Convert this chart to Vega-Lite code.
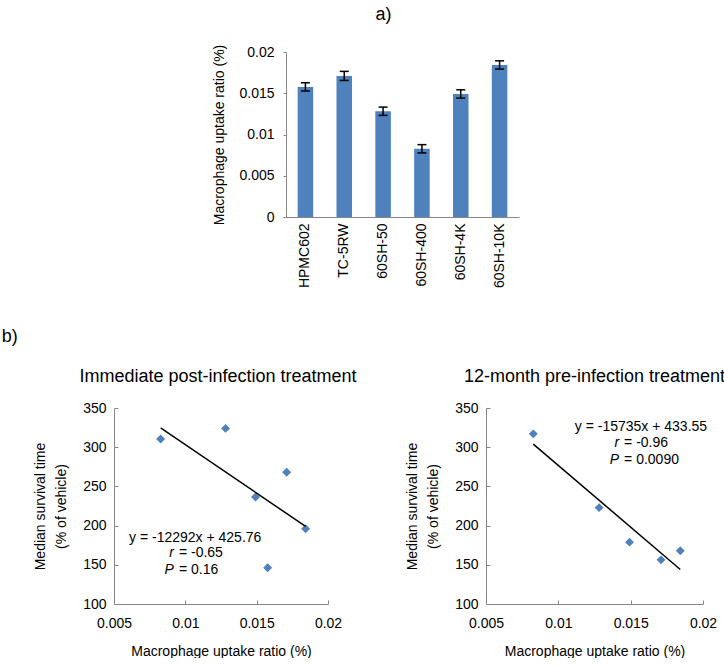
{
  "$schema": "https://vega.github.io/schema/vega-lite/v6.json",
  "padding": {"left": 1, "top": 6, "right": 0, "bottom": 0},
  "background": "white",
  "center": false,
  "config": {
    "view": {"stroke": null},
    "font": "Liberation Sans",
    "title": {"font": "Liberation Sans", "fontWeight": "normal", "fontSize": 18, "color": "black"},
    "axis": {
      "grid": false,
      "domainColor": "#868686",
      "tickColor": "#868686",
      "labelColor": "black",
      "titleColor": "black",
      "labelFont": "Liberation Sans",
      "titleFont": "Liberation Sans",
      "labelFontSize": 14,
      "titleFontSize": 14,
      "titleFontWeight": "normal",
      "labelFlush": false,
      "labelOverlap": false
    }
  },
  "datasets": {
    "bars": [
      {"sample": "HPMC602", "ratio": 0.01577, "low": 0.01527, "high": 0.01627},
      {"sample": "TC-5RW", "ratio": 0.0171, "low": 0.01655, "high": 0.01765},
      {"sample": "60SH-50", "ratio": 0.01282, "low": 0.01232, "high": 0.01332},
      {"sample": "60SH-400", "ratio": 0.00827, "low": 0.00777, "high": 0.00877},
      {"sample": "60SH-4K", "ratio": 0.01492, "low": 0.01442, "high": 0.01542},
      {"sample": "60SH-10K", "ratio": 0.01843, "low": 0.01793, "high": 0.01893}
    ],
    "post": [
      {"uptake": 0.00827, "survival": 310.5},
      {"uptake": 0.01282, "survival": 324},
      {"uptake": 0.01492, "survival": 236.5},
      {"uptake": 0.01577, "survival": 146.3},
      {"uptake": 0.0171, "survival": 268},
      {"uptake": 0.01843, "survival": 196}
    ],
    "postfit": [
      {"uptake": 0.00827, "survival": 324.5},
      {"uptake": 0.01843, "survival": 199}
    ],
    "postnotes": [
      {"kind": "center", "uptake": 0.01069, "survival": 184, "t": "y = -12292x + 425.76"},
      {"kind": "italic", "uptake": 0.0092, "survival": 164.7, "t": "r"},
      {"kind": "italic", "uptake": 0.0092, "survival": 143.4, "t": "P"},
      {"kind": "rest", "uptake": 0.0092, "survival": 164.7, "t": "= -0.65"},
      {"kind": "rest", "uptake": 0.0092, "survival": 143.4, "t": "= 0.16"}
    ],
    "pre": [
      {"uptake": 0.00827, "survival": 317},
      {"uptake": 0.01282, "survival": 222.9},
      {"uptake": 0.01492, "survival": 178.9},
      {"uptake": 0.0171, "survival": 156.3},
      {"uptake": 0.01843, "survival": 167.8}
    ],
    "prefit": [
      {"uptake": 0.00827, "survival": 304},
      {"uptake": 0.01843, "survival": 144}
    ],
    "prenotes": [
      {"kind": "center", "uptake": 0.01571, "survival": 325.7, "t": "y = -15735x + 433.55"},
      {"kind": "italic", "uptake": 0.0142, "survival": 304.8, "t": "r"},
      {"kind": "italic", "uptake": 0.0142, "survival": 284.3, "t": "P"},
      {"kind": "rest", "uptake": 0.0142, "survival": 304.8, "t": "= -0.96"},
      {"kind": "rest", "uptake": 0.0142, "survival": 284.3, "t": "= 0.0090"}
    ]
  },
  "vconcat": [
    {
      "spacing": 0,
      "center": false,
      "hconcat": [
        {"width": 98, "height": 10, "data": {"values": []}, "mark": "point", "encoding": {}},
        {
          "title": {"text": "a)", "anchor": "middle", "frame": "group", "dx": -19, "offset": 20},
          "width": 233,
          "height": 165,
          "data": {"name": "bars"},
          "layer": [
            {
              "mark": {"type": "bar", "color": "#4F81BD"},
              "encoding": {
                "x": {"field": "sample", "type": "nominal", "sort": null,
                      "scale": {"paddingInner": 0.6, "paddingOuter": 0.3},
                      "axis": {"title": null, "labelAngle": -90, "ticks": false, "labelPadding": 6}},
                "y": {"field": "ratio", "type": "quantitative",
                      "scale": {"domain": [0, 0.02], "nice": false},
                      "axis": {"title": "Macrophage uptake ratio (%)", "values": [0, 0.005, 0.01, 0.015, 0.02],
                               "format": "~g", "tickSize": 3, "labelPadding": 9, "titlePadding": 12, "labelOverlap": false}}
              }
            },
            {
              "mark": {"type": "rule", "color": "black", "strokeWidth": 1.5},
              "encoding": {
                "x": {"field": "sample", "type": "nominal", "sort": null},
                "y": {"field": "low", "type": "quantitative"},
                "y2": {"field": "high"}
              }
            },
            {
              "mark": {"type": "tick", "color": "black", "size": 9, "thickness": 1.5, "opacity": 1},
              "encoding": {
                "x": {"field": "sample", "type": "nominal", "sort": null},
                "y": {"field": "low", "type": "quantitative"}
              }
            },
            {
              "mark": {"type": "tick", "color": "black", "size": 9, "thickness": 1.5, "opacity": 1},
              "encoding": {
                "x": {"field": "sample", "type": "nominal", "sort": null},
                "y": {"field": "high", "type": "quantitative"}
              }
            }
          ]
        }
      ]
    },
    {
      "title": {"text": "b)", "anchor": "start", "dx": -32, "offset": 22},
      "spacing": 48,
      "hconcat": [
        {
          "title": {"text": "Immediate post-infection treatment", "anchor": "middle", "frame": "group", "dx": -3, "offset": 15},
          "width": 214,
          "height": 196,
          "encoding": {
            "x": {"field": "uptake", "type": "quantitative",
                  "scale": {"domain": [0.005, 0.02], "nice": false, "zero": false},
                  "axis": {"title": "Macrophage uptake ratio (%)", "values": [0.005, 0.01, 0.015, 0.02], "format": "~g",
                           "tickSize": -4, "labelPadding": 16, "titlePadding": 14, "labelOverlap": false}},
            "y": {"field": "survival", "type": "quantitative",
                  "scale": {"domain": [100, 350], "nice": false, "zero": false},
                  "axis": {"title": ["Median survival time", "(% of vehicle)"], "values": [100, 150, 200, 250, 300, 350],
                           "tickCount": 6, "format": "d", "tickSize": -4, "labelPadding": 12, "titlePadding": 14,
                           "titleLineHeight": 21, "labelOverlap": false}}
          },
          "layer": [
            {
              "data": {"name": "post"},
              "mark": {"type": "point", "shape": "diamond", "filled": true, "size": 80, "color": "#4F81BD", "opacity": 1}
            },
            {
              "data": {"name": "postfit"},
              "mark": {"type": "line", "color": "black", "strokeWidth": 1.5}
            },
            {
              "data": {"name": "postnotes"},
              "transform": [{"filter": "datum.kind === 'center'"}],
              "mark": {"type": "text", "align": "center", "baseline": "middle", "fontSize": 14, "color": "black"},
              "encoding": {"text": {"field": "t"}}
            },
            {
              "data": {"name": "postnotes"},
              "transform": [{"filter": "datum.kind === 'italic'"}],
              "mark": {"type": "text", "align": "right", "baseline": "middle", "fontSize": 14, "fontStyle": "italic", "color": "black"},
              "encoding": {"text": {"field": "t"}}
            },
            {
              "data": {"name": "postnotes"},
              "transform": [{"filter": "datum.kind === 'rest'"}],
              "mark": {"type": "text", "align": "left", "baseline": "middle", "fontSize": 14, "color": "black", "dx": 5},
              "encoding": {"text": {"field": "t"}}
            }
          ]
        },
        {
          "title": {"text": "12-month pre-infection treatment", "anchor": "middle", "frame": "group", "offset": 15},
          "width": 217,
          "height": 196,
          "encoding": {
            "x": {"field": "uptake", "type": "quantitative",
                  "scale": {"domain": [0.005, 0.02], "nice": false, "zero": false},
                  "axis": {"title": "Macrophage uptake ratio (%)", "values": [0.005, 0.01, 0.015, 0.02], "format": "~g",
                           "tickSize": -4, "labelPadding": 16, "titlePadding": 14, "labelOverlap": false}},
            "y": {"field": "survival", "type": "quantitative",
                  "scale": {"domain": [100, 350], "nice": false, "zero": false},
                  "axis": {"title": ["Median survival time", "(% of vehicle)"], "values": [100, 150, 200, 250, 300, 350],
                           "tickCount": 6, "format": "d", "tickSize": -4, "labelPadding": 12, "titlePadding": 14,
                           "titleLineHeight": 21, "labelOverlap": false}}
          },
          "layer": [
            {
              "data": {"name": "pre"},
              "mark": {"type": "point", "shape": "diamond", "filled": true, "size": 80, "color": "#4F81BD", "opacity": 1}
            },
            {
              "data": {"name": "prefit"},
              "mark": {"type": "line", "color": "black", "strokeWidth": 1.5}
            },
            {
              "data": {"name": "prenotes"},
              "transform": [{"filter": "datum.kind === 'center'"}],
              "mark": {"type": "text", "align": "center", "baseline": "middle", "fontSize": 14, "color": "black"},
              "encoding": {"text": {"field": "t"}}
            },
            {
              "data": {"name": "prenotes"},
              "transform": [{"filter": "datum.kind === 'italic'"}],
              "mark": {"type": "text", "align": "right", "baseline": "middle", "fontSize": 14, "fontStyle": "italic", "color": "black"},
              "encoding": {"text": {"field": "t"}}
            },
            {
              "data": {"name": "prenotes"},
              "transform": [{"filter": "datum.kind === 'rest'"}],
              "mark": {"type": "text", "align": "left", "baseline": "middle", "fontSize": 14, "color": "black", "dx": 5},
              "encoding": {"text": {"field": "t"}}
            }
          ]
        }
      ]
    }
  ],
  "spacing": 40
}
